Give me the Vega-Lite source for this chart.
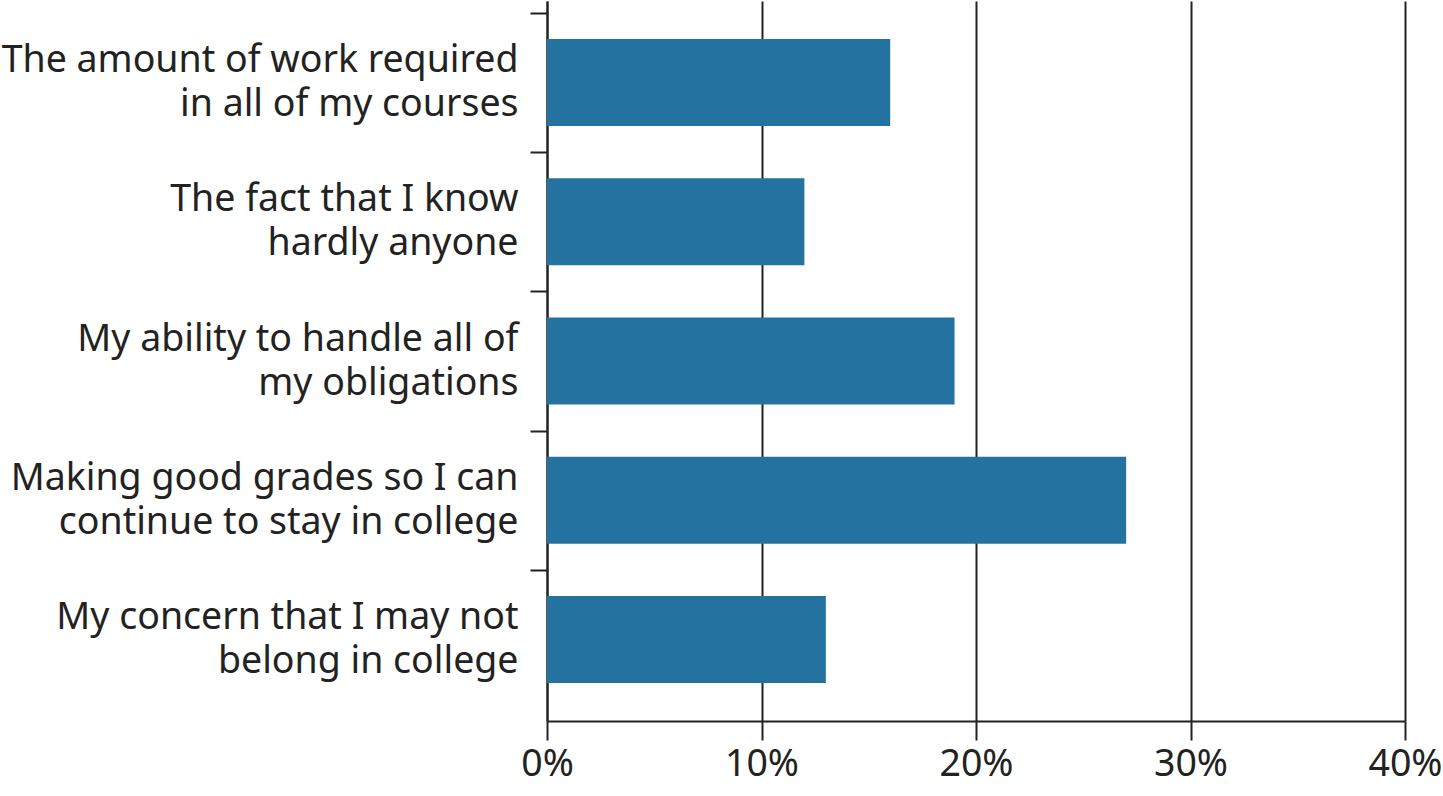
{
  "$schema": "https://vega.github.io/schema/vega-lite/v6.json",
  "autosize": {"type": "none"},
  "padding": {"left": 547, "top": 1, "right": 38, "bottom": 75},
  "width": 858,
  "height": 720,
  "background": "white",
  "data": {"values": [
    {"reason": "The amount of work required|in all of my courses", "pct": 16},
    {"reason": "The fact that I know|hardly anyone", "pct": 12},
    {"reason": "My ability to handle all of|my obligations", "pct": 19},
    {"reason": "Making good grades so I can|continue to stay in college", "pct": 27},
    {"reason": "My concern that I may not|belong in college", "pct": 13}
  ]},
  "mark": {"type": "bar", "color": "#24729f"},
  "encoding": {
    "y": {
      "field": "reason", "type": "nominal", "sort": null, "title": null,
      "scale": {"paddingInner": 0.375, "paddingOuter": 0.273},
      "axis": {
        "labelExpr": "split(datum.label, '|')",
        "labelFont": "Noto Sans", "labelFontSize": 37.5, "labelColor": "#222222",
        "labelLineHeight": 44, "labelPadding": 12, "labelLimit": 600,
        "tickSize": 17, "tickWidth": 2, "tickColor": "#222222",
        "tickOffset": -69.6, "labelOffset": 47.6,
        "domainColor": "#222222", "domainWidth": 2,
        "grid": false
      }
    },
    "x": {
      "field": "pct", "type": "quantitative", "title": null,
      "scale": {"domain": [0, 40], "nice": false},
      "axis": {
        "values": [0, 10, 20, 30, 40],
        "labelExpr": "datum.value + '%'",
        "labelFont": "Noto Sans", "labelFontSize": 37.5, "labelColor": "#222222",
        "labelPadding": 5, "labelFlush": false,
        "tickSize": 19, "tickWidth": 2, "tickColor": "#222222",
        "domainColor": "#222222", "domainWidth": 2,
        "grid": true, "gridColor": "#222222", "gridWidth": 2, "gridOpacity": 1
      }
    }
  },
  "config": {"view": {"stroke": null}}
}
